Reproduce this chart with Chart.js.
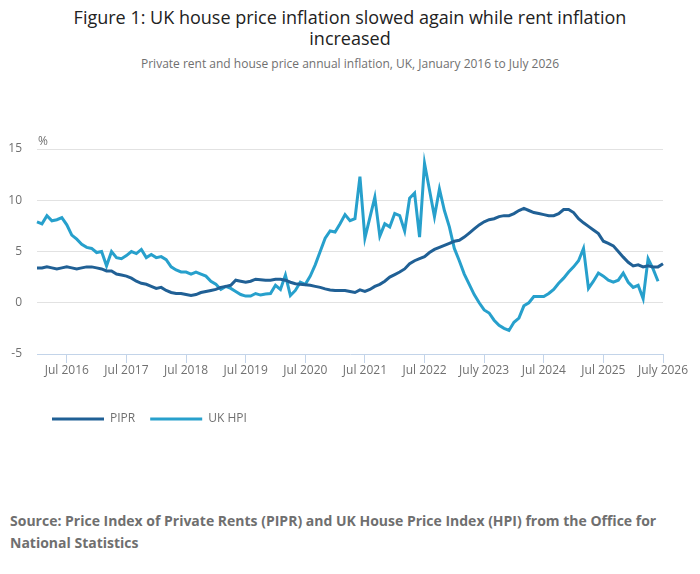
<!DOCTYPE html>
<html>
<head>
<meta charset="utf-8">
<script src="https://cdn.jsdelivr.net/npm/chart.js@4.4.1/dist/chart.umd.min.js"></script>
<style>
  body { margin: 0; background: #fff; font-family: 'Open Sans', sans-serif; }
  #page { position: relative; width: 700px; height: 574px; overflow: hidden; }
  #title { position: absolute; top: 7px; left: 0; width: 700px; text-align: center;
    font-size: 18px; line-height: 21px; color: #222; }
  #subtitle { position: absolute; top: 56px; left: 0; width: 700px; text-align: center;
    font-size: 12px; line-height: 16px; color: #707070; }
  #chartBox { position: absolute; top: 80px; left: 0; width: 700px; height: 380px; }
  #source { position: absolute; top: 510px; left: 10px; width: 685px;
    font-size: 14px; line-height: 22px; font-weight: bold; color: #6f6f6f; }
</style>
</head>
<body>
<div id="page">
  <div id="title">Figure 1: UK house price inflation slowed again while rent inflation<br>increased</div>
  <div id="subtitle">Private rent and house price annual inflation, UK, January 2016 to July 2026</div>
  <div id="chartBox"><canvas id="chart"></canvas></div>
  <div id="source">Source: Price Index of Private Rents (PIPR) and UK House Price Index (HPI) from the Office for National Statistics</div>
</div>
<script>
'use strict';
// monthly, January 2016 to July 2026
var monthNames = ['Jan', 'Feb', 'Mar', 'Apr', 'May', 'Jun', 'Jul', 'Aug', 'Sep', 'Oct', 'Nov', 'Dec'];
var months = [];
for (var y = 2016; y <= 2026; y++) {
  for (var m = 0; m < 12; m++) {
    if (y === 2026 && m > 6) break;
    months.push(monthNames[m] + ' ' + y);
  }
}
// shown under the July ticks
var tickLabels = ['Jul 2016', 'Jul 2017', 'Jul 2018', 'Jul 2019', 'Jul 2020', 'Jul 2021',
  'Jul 2022', 'July 2023', 'Jul 2024', 'Jul 2025', 'July 2026'];

var pipr = [
  3.4, 3.4, 3.5, 3.4, 3.3, 3.4, 3.5, 3.4, 3.3, 3.4, 3.5, 3.5,
  3.4, 3.3, 3.1, 3.1, 2.8, 2.7, 2.6, 2.4, 2.1, 1.9, 1.8, 1.6,
  1.4, 1.5, 1.2, 1.0, 0.9, 0.9, 0.8, 0.7, 0.8, 1.0, 1.1, 1.2,
  1.3, 1.5, 1.6, 1.7, 2.2, 2.1, 2.0, 2.1, 2.3, 2.25, 2.2, 2.2,
  2.3, 2.3, 2.2, 2.0, 1.85, 1.8, 1.75, 1.7, 1.6, 1.5, 1.35, 1.25,
  1.2, 1.2, 1.2, 1.1, 1.0, 1.25, 1.1, 1.3, 1.6, 1.8, 2.1, 2.5,
  2.75, 3.0, 3.3, 3.8, 4.1, 4.3, 4.5, 4.9, 5.2, 5.4, 5.6, 5.8,
  6.0, 6.1, 6.4, 6.8, 7.2, 7.6, 7.9, 8.1, 8.2, 8.4, 8.5, 8.5,
  8.7, 9.0, 9.2, 9.0, 8.8, 8.7, 8.6, 8.5, 8.5, 8.7, 9.1, 9.1,
  8.8, 8.2, 7.8, 7.45, 7.1, 6.75, 6.0, 5.8, 5.55, 5.0, 4.45, 3.95,
  3.6, 3.7, 3.5, 3.6, 3.5, 3.5, 3.8
];
var ukHpi = [
  7.9, 7.7, 8.5, 8.0, 8.1, 8.3, 7.6, 6.6, 6.2, 5.7, 5.4, 5.3,
  4.9, 5.0, 3.6, 5.0, 4.4, 4.3, 4.6, 5.0, 4.8, 5.2, 4.4, 4.7,
  4.4, 4.5, 4.2, 3.5, 3.2, 3.0, 3.0, 2.8, 3.0, 2.8, 2.6, 2.1,
  1.8, 1.3, 1.6, 1.4, 1.1, 0.8, 0.65, 0.65, 0.9, 0.75, 0.85, 0.9,
  1.7, 1.3, 2.7, 0.7, 1.2, 2.0, 1.8, 2.6, 3.7, 5.0, 6.3, 7.0,
  6.9, 7.7, 8.6, 8.0, 8.2, 12.3, 6.3, 8.3, 10.3, 6.5, 7.7, 7.4,
  8.7, 8.5, 7.0, 10.2, 10.7, 6.4, 13.6, 11.0, 8.4, 11.1, 9.0, 7.4,
  5.3, 4.1, 2.8, 1.8, 0.8, 0.0, -0.7, -1.0, -1.7, -2.2, -2.5, -2.7,
  -1.9, -1.5, -0.3, 0.0, 0.6, 0.6, 0.6, 0.9, 1.3, 1.9, 2.4, 3.0,
  3.5, 4.1, 5.3, 1.4, 2.1, 2.9, 2.6, 2.2, 2.0, 2.2, 2.9, 2.0,
  1.5, 1.7, 0.4, 4.3, 3.3, 2.1, null
];

var darkBlue = '#206095';
var lightBlue = '#27a0cc';
var gridColor = '#e2e2e2';
var axisColor = '#c3d4e9';
var textGrey = '#707070';

Chart.defaults.font.family = "'Open Sans', sans-serif";
Chart.defaults.font.size = 12;
Chart.defaults.color = textGrey;

// the little "%" unit above the y axis
var percentLabel = {
  id: 'percentLabel',
  afterDraw: function (chart) {
    var ctx = chart.ctx;
    ctx.save();
    ctx.font = "12px 'Open Sans', sans-serif";
    ctx.fillStyle = textGrey;
    ctx.textBaseline = 'middle';
    ctx.textAlign = 'left';
    ctx.fillText('%', chart.chartArea.left + 1, chart.chartArea.top - 7);
    ctx.restore();
  }
};

new Chart(document.getElementById('chart'), {
  type: 'line',
  data: {
    labels: months,
    datasets: [{
      label: 'PIPR',
      data: pipr,
      borderColor: darkBlue,
      backgroundColor: darkBlue,
      borderWidth: 3,
      pointRadius: 0,
      tension: 0
    }, {
      label: 'UK HPI',
      data: ukHpi,
      borderColor: lightBlue,
      backgroundColor: lightBlue,
      borderWidth: 3,
      pointRadius: 0,
      tension: 0
    }]
  },
  options: {
    responsive: true,
    maintainAspectRatio: false,
    animation: false,
    layout: { padding: { top: 69, right: 37, bottom: 25, left: 0 } },
    plugins: {
      tooltip: { enabled: false },
      title: { display: false },
      legend: {
        position: 'bottom',
        align: 'start',
        fullSize: false,
        labels: {
          boxWidth: 52,
          boxHeight: 3,
          padding: 15,
          color: textGrey,
          font: { size: 12 },
          generateLabels: function (chart) {
            var items = Chart.defaults.plugins.legend.labels.generateLabels(chart);
            items.forEach(function (it) {
              it.fillStyle = it.strokeStyle;
              it.lineWidth = 0;
            });
            return items;
          }
        }
      }
    },
    scales: {
      x: {
        afterFit: function (scale) { scale.height = 44; },
        grid: {
          drawOnChartArea: false,
          drawTicks: true,
          tickLength: 9,
          color: function (ctx) {
            return (ctx.index - 6) % 12 === 0 ? axisColor : 'rgba(0,0,0,0)';
          }
        },
        border: { display: true, color: axisColor, width: 1 },
        ticks: {
          autoSkip: false,
          maxRotation: 0,
          padding: 0,
          color: textGrey,
          font: { size: 12 },
          callback: function (value, index) {
            return (index - 6) % 12 === 0 ? tickLabels[(index - 6) / 12] : '';
          }
        }
      },
      y: {
        min: -5,
        max: 15,
        afterFit: function (scale) { scale.width = 37; },
        grid: {
          drawTicks: false,
          color: function (ctx) {
            return ctx.tick && ctx.tick.value === -5 ? 'rgba(0,0,0,0)' : gridColor;
          }
        },
        border: { display: false },
        ticks: {
          stepSize: 5,
          padding: 15,
          color: textGrey,
          font: { size: 12 }
        }
      }
    }
  },
  plugins: [percentLabel]
});
</script>
</body>
</html>
